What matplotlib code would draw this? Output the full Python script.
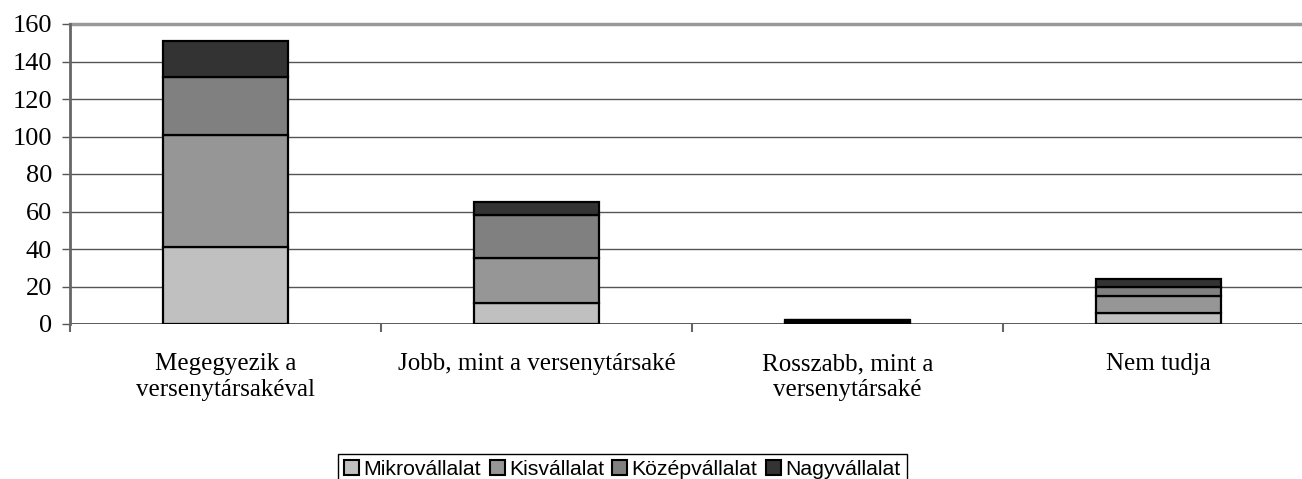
import numpy as np
import matplotlib
matplotlib.use("Agg")
import matplotlib.pyplot as plt
from matplotlib.patches import Patch

# ---- data ----
categories = ["Megegyezik a\nversenytársakéval", "Jobb, mint a versenytársaké",
              "Rosszabb, mint a\nversenytársaké", "Nem tudja"]
series_names = ["Mikrovállalat", "Kisvállalat", "Középvállalat", "Nagyvállalat"]
mikro = [41, 11, 0, 6]
kis = [60, 24, 1, 9]
kozep = [31, 23, 1, 5]
nagy = [19, 7, 0, 4]
y_ticks = [0, 20, 40, 60, 80, 100, 120, 140, 160]

colors = ["#C0C0C0", "#969696", "#808080", "#333333"]

fig = plt.figure(figsize=(13.02, 4.79), dpi=100)
# plot area runs a bit past the right edge of the picture (as in the reference)
ax = fig.add_axes([70 / 1302, 1 - 324 / 479, 1244 / 1302, 300 / 479])

x = np.arange(len(categories))
bottom = np.zeros(len(categories))
for name, vals, col in zip(series_names, [mikro, kis, kozep, nagy], colors):
    ax.bar(x, vals, width=0.4, bottom=bottom, color=col, edgecolor="black",
           linewidth=1.6, zorder=3, label=name)
    bottom += np.array(vals)

ax.set_xlim(-0.5, len(categories) - 0.5)
ax.set_ylim(0, 160)
ax.set_yticks(y_ticks)
ax.yaxis.grid(True, color="#555555", linewidth=1.0, zorder=0)
ax.set_axisbelow(True)

for s in ["top", "right", "bottom"]:
    ax.spines[s].set_visible(False)
ax.spines["left"].set_color("#666666")
ax.spines["left"].set_linewidth(2)
ax.axhline(0, color="#333333", linewidth=1.8, zorder=2)
ax.axhline(160, color="#999999", linewidth=2.5, zorder=2, clip_on=False)

ax.tick_params(axis="y", length=6, width=1, color="#555555", pad=7,
               labelsize=19, labelfontfamily="Liberation Serif")
ax.set_xticks(x)
ax.set_xticklabels(categories, fontsize=18, family="Liberation Serif",
                   linespacing=1.2)
ax.tick_params(axis="x", length=0, pad=21)
# category boundary ticks
ax.set_xticks(np.arange(len(categories) + 1) - 0.5, minor=True)
ax.tick_params(axis="x", which="minor", length=6, width=1.5, color="#666666")

handles = [Patch(facecolor=c, edgecolor="black", linewidth=1.5) for c in colors]
leg = fig.legend(handles, series_names, loc="lower center",
                 bbox_to_anchor=(0.478, -0.014), ncol=4, frameon=True,
                 fancybox=False, edgecolor="black", framealpha=1,
                 prop={"family": "Liberation Sans", "size": 15.3},
                 handlelength=0.7, handleheight=0.7, handletextpad=0.2,
                 columnspacing=0.4, borderpad=0.3, borderaxespad=0)
leg.get_frame().set_linewidth(1.0)

fig.savefig("out.png", dpi=100)
